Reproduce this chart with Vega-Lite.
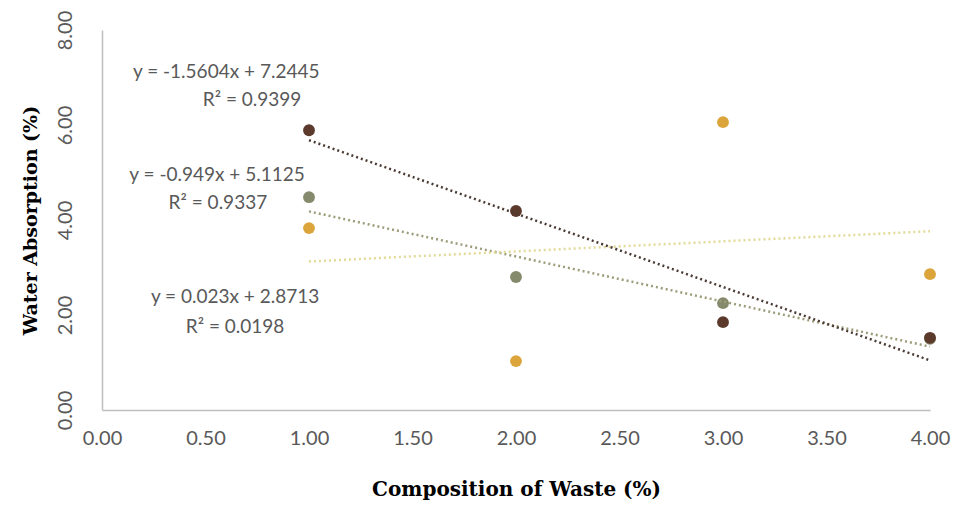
{
  "$schema": "https://vega.github.io/schema/vega-lite/v6.json",
  "width": 828,
  "height": 380,
  "autosize": "none",
  "padding": {"left": 102, "top": 30, "right": 26, "bottom": 97},
  "background": "white",
  "config": {"view": {"stroke": null}},
  "datasets": {
    "points": [
      {"series": "B", "x": 1, "y": 4.48},
      {"series": "B", "x": 2, "y": 2.80},
      {"series": "B", "x": 3, "y": 2.25},
      {"series": "B", "x": 4, "y": 1.50},
      {"series": "C", "x": 1, "y": 3.83},
      {"series": "C", "x": 2, "y": 1.03},
      {"series": "C", "x": 3, "y": 6.06},
      {"series": "C", "x": 4, "y": 2.86},
      {"series": "A", "x": 1, "y": 5.89},
      {"series": "A", "x": 2, "y": 4.19},
      {"series": "A", "x": 3, "y": 1.85},
      {"series": "A", "x": 4, "y": 1.52}
    ],
    "labels": [
      {"x": 0.60, "y": 7.12, "text": "y = -1.5604x + 7.2445"},
      {"x": 0.725, "y": 6.53, "text": "R² = 0.9399"},
      {"x": 0.556, "y": 4.95, "text": "y = -0.949x + 5.1125"},
      {"x": 0.560, "y": 4.36, "text": "R² = 0.9337"},
      {"x": 0.643, "y": 2.38, "text": "y = 0.023x + 2.8713"},
      {"x": 0.643, "y": 1.75, "text": "R² = 0.0198"}
    ]
  },
  "layer": [
    {
      "data": {"name": "points"},
      "mark": {"type": "circle", "size": 140, "opacity": 1},
      "encoding": {
        "x": {
          "field": "x", "type": "quantitative",
          "scale": {"domain": [0, 4], "nice": false, "zero": false},
          "axis": {
            "values": [0, 0.5, 1, 1.5, 2, 2.5, 3, 3.5, 4],
            "format": ".2f", "grid": false, "ticks": false, "labelFlush": false,
            "domainColor": "#bfbfbf", "domainWidth": 1.5,
            "labelFont": "Lato", "labelFontSize": 20, "labelColor": "#595959",
            "labelPadding": 18,
            "title": "Composition of Waste (%)",
            "titleFont": "DejaVu Serif", "titleFontSize": 20, "titleFontWeight": "bold",
            "titleColor": "#000000", "titlePadding": 31
          }
        },
        "y": {
          "field": "y", "type": "quantitative",
          "scale": {"domain": [0, 8], "nice": false},
          "axis": {
            "values": [0, 2, 4, 6, 8],
            "format": ".2f", "grid": false, "ticks": false, "labelFlush": false,
            "domainColor": "#bfbfbf", "domainWidth": 1.5,
            "labelAngle": -90,
            "labelFont": "Lato", "labelFontSize": 20, "labelColor": "#595959",
            "labelPadding": 27,
            "title": "Water Absorption (%)",
            "titleFont": "DejaVu Serif", "titleFontSize": 19, "titleFontWeight": "bold",
            "titleColor": "#000000", "titlePadding": 15
          }
        },
        "color": {
          "field": "series", "type": "nominal",
          "scale": {"domain": ["A", "B", "C"], "range": ["#5b3a2c", "#868a6c", "#dca53c"]},
          "legend": null
        }
      }
    },
    {
      "data": {"name": "points"},
      "transform": [{"regression": "y", "on": "x", "groupby": ["series"]}],
      "mark": {"type": "line", "strokeDash": [2, 3], "strokeWidth": 2.5, "strokeCap": "butt"},
      "encoding": {
        "x": {"field": "x", "type": "quantitative"},
        "y": {"field": "y", "type": "quantitative"},
        "color": {
          "field": "series", "type": "nominal",
          "scale": {"domain": ["A", "B", "C"], "range": ["#4a3a32", "#9c9c7a", "#e2da98"]},
          "legend": null
        }
      }
    },
    {
      "data": {"name": "labels"},
      "mark": {"type": "text", "font": "Lato", "fontSize": 19, "color": "#595959", "align": "center", "baseline": "middle"},
      "encoding": {
        "x": {"field": "x", "type": "quantitative"},
        "y": {"field": "y", "type": "quantitative"},
        "text": {"field": "text"}
      }
    }
  ],
  "resolve": {"scale": {"color": "independent"}}
}
